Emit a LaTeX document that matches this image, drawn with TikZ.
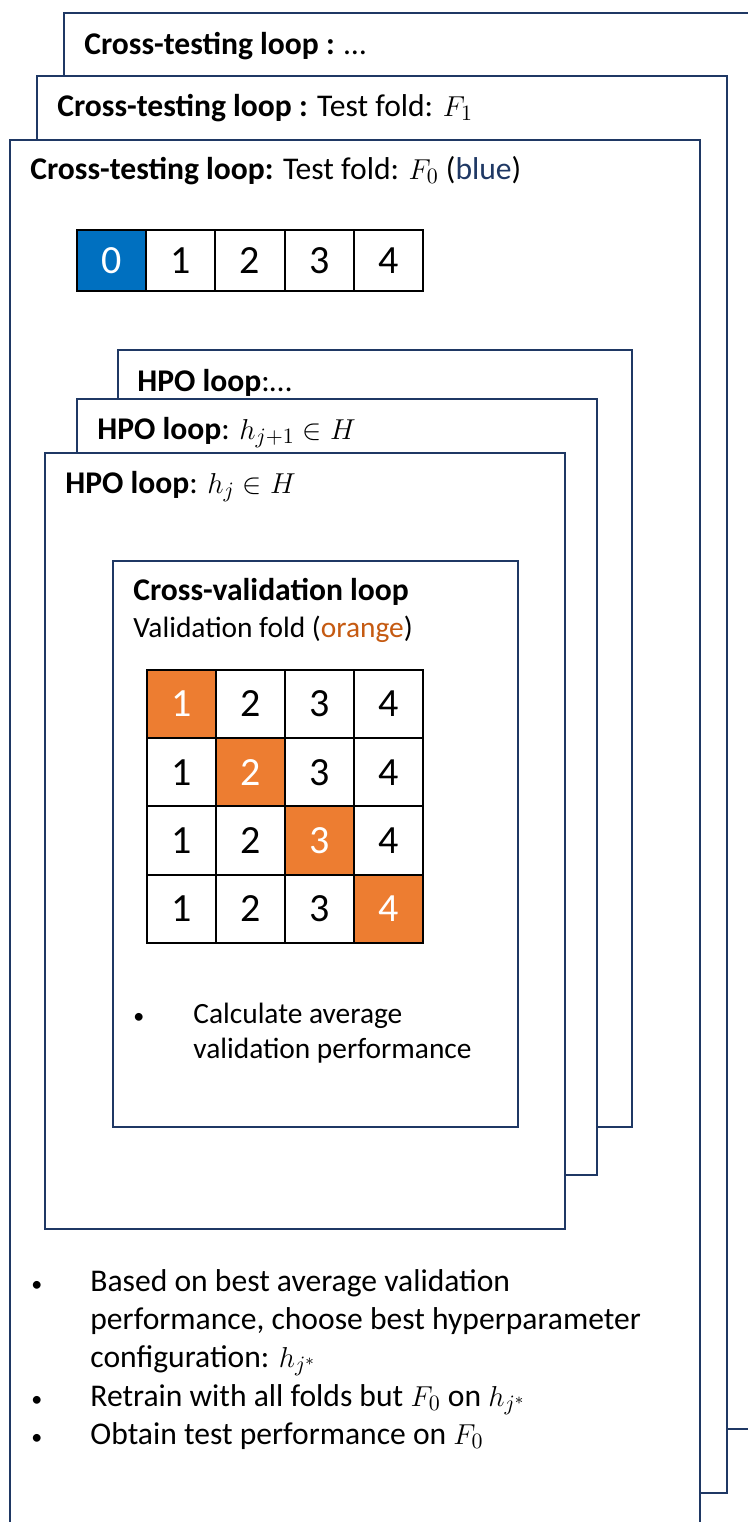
\documentclass[tikz,border=0pt]{standalone}
\usepackage{fontspec}
\setmainfont{Carlito}
\definecolor{navy}{HTML}{1F3864}
\definecolor{testblue}{HTML}{0070C0}
\definecolor{valorange}{HTML}{ED7D31}
\definecolor{wordorange}{HTML}{C55A11}

\begin{document}
\begin{tikzpicture}[x=0.5pt, y=-0.5pt,
  frame/.style={draw=navy, line width=1.3pt, fill=white},
  cell/.style={draw=black, line width=1pt, inner sep=0pt, outer sep=0pt,
    minimum width=34.6pt, minimum height=30.5pt, font=\fontsize{20}{24}\selectfont},
  gridcell/.style={cell, minimum width=34.5pt, minimum height=34.1pt},
  valcell/.style={gridcell, fill=valorange, text=white},
  lbl/.style={anchor=base west, inner sep=0pt, font=\fontsize{15.8}{19}\selectfont},
  small/.style={lbl, font=\fontsize{14.7}{17.5}\selectfont},
  bul/.style={lbl, align=left},
  dot/.style={anchor=base west, inner sep=0pt, font=\fontsize{11}{19}\selectfont}]
  \clip (0,0) rectangle (748,1522);

  % cross-testing loops, back to front
  \draw[frame] (64,13) rectangle (780,1429);
  \draw[frame] (37,76) rectangle (727,1493);
  \draw[frame] (10,140) rectangle (700,1560);

  \node[lbl] (ct2) at (84,54) {\textbf{Cross-testing loop :} …};
  \node[lbl] (ct1) at (57,116) {\textbf{Cross-testing loop :} Test fold: $F_1$};
  \node[lbl] (ct0) at (30,179) {\textbf{Cross-testing loop:} Test fold: $F_0$ (\textcolor{navy}{blue})};

  % outer folds
  \foreach \i in {0,...,4}
    \node[cell] (test-\i) at ({111.6+69.2*\i},260.5) {\i};
  \node[cell, fill=testblue, text=white] (test-0) at (111.6,260.5) {0};

  % HPO loops
  \draw[frame] (118,350) rectangle (632,1127);
  \draw[frame] (77,399) rectangle (597,1175);
  \draw[frame] (45,453) rectangle (565,1229);

  \node[lbl] (hpo2) at (137,391) {\textbf{HPO loop}:…};
  \node[lbl] (hpo1) at (97,439) {\textbf{HPO loop}: $h_{j+1}\in H$};
  \node[lbl] (hpo0) at (65,493) {\textbf{HPO loop}: $h_j\in H$};

  % cross-validation loop
  \draw[frame] (113,561) rectangle (518,1127);
  \node[lbl] (cv) at (133,600) {\textbf{Cross-validation loop}};
  \node[small] (cvsub) at (133,637) {Validation fold (\textcolor{wordorange}{orange})};

  \foreach \r in {1,...,4}{
    \foreach \c in {1,...,4}{
      \ifnum\r=\c \def\cellstyle{valcell}\else\def\cellstyle{gridcell}\fi
      \node[\cellstyle] (val-\r-\c) at ({181.5+69*(\c-1)},{704+68.2*(\r-1)}) {\c};
    }
  }

  \node[dot] (cvdot) at (133,1023) {•};
  \node[small, align=left] (cvtext) at (193,1058) {Calculate average\\validation performance};

  % after the HPO loops
  \node[dot] (dot1) at (31,1291) {•};
  \node[bul] (step1) at (90,1367) {Based on best average validation\\performance, choose best hyperparameter\\configuration: $h_{j^*}$};
  \node[dot] (dot2) at (31,1406) {•};
  \node[lbl] (step2) at (90,1406) {Retrain with all folds but $F_0$ on $h_{j^*}$};
  \node[dot] (dot3) at (31,1444) {•};
  \node[lbl] (step3) at (90,1444) {Obtain test performance on $F_0$};
\end{tikzpicture}
\end{document}
